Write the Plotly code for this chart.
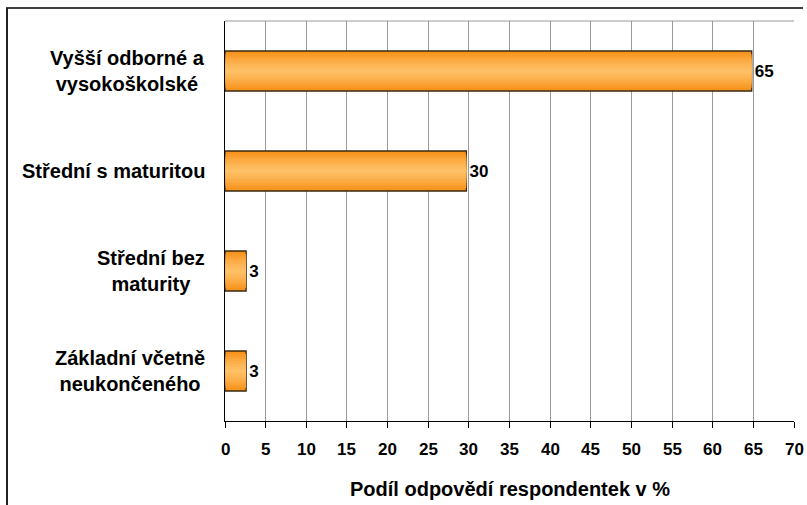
import plotly.graph_objects as go

categories = ["Vyšší odborné a<br>vysokoškolské", "Střední s maturitou",
              "Střední bez<br>maturity", "Základní včetně<br>neukončeného"]
values = [64.8, 29.7, 2.6, 2.6]
labels = ["65", "30", "3", "3"]
x_ticks = list(range(0, 75, 5))
x_title = "Podíl odpovědí respondentek v %"

W, H = 807, 505
L, R, T, B = 225, 13, 21, 84
pw, ph = W - L - R, H - T - B

FONT = "Liberation Sans, Arial, sans-serif"
ycat = list(range(len(categories)))

fig = go.Figure()
# base bar with border and labels
fig.add_trace(go.Bar(
    x=values, y=ycat, orientation="h", width=0.4,
    marker=dict(color="#F7941D", line=dict(color="#3a2a10", width=1.3)),
    text=labels, textposition="outside", cliponaxis=False,
    textfont=dict(family=FONT, size=17, color="black", weight="bold"),
    hoverinfo="skip", showlegend=False,
))
# gradient layers (lighter towards the middle)
for w, c in [(0.34, "#F89A28"), (0.29, "#FAA234"), (0.24, "#FBA940"), (0.19, "#FCB04B"),
             (0.14, "#FDB655"), (0.09, "#FEBB5E"), (0.04, "#FFBF64")]:
    fig.add_trace(go.Bar(
        x=[v - 0.08 for v in values], base=[0.06] * len(values), y=ycat, orientation="h", width=w,
        marker=dict(color=c, line=dict(width=0)),
        hoverinfo="skip", showlegend=False,
    ))

# category labels (centred multi-line blocks, right edge near the axis)
for i, cat in enumerate(categories):
    fig.add_annotation(
        x=(207 - L) / pw, xref="paper", y=i, yref="y",
        text=cat, showarrow=False, xanchor="right", align="center",
        font=dict(family=FONT, size=20, color="black", weight="bold"),
    )

# x tick labels
for v in x_ticks:
    fig.add_annotation(
        x=v, xref="x", y=-(449 - (H - B)) / ph, yref="paper",
        text=str(v), showarrow=False, xanchor="center", yanchor="middle",
        font=dict(family=FONT, size=17, color="black", weight="bold"),
    )

# x axis title
fig.add_annotation(
    x=0.5, xref="paper", y=-(489 - (H - B)) / ph, yref="paper",
    text=x_title, showarrow=False, xanchor="center", yanchor="middle",
    font=dict(family=FONT, size=20, color="black", weight="bold"),
)

shapes = [
    # gray top border of plot area
    dict(type="line", xref="paper", yref="paper", x0=0, x1=1, y0=1, y1=1,
         line=dict(color="#9a9a9a", width=1.2)),
    # outer frame: top and left
    dict(type="line", xref="paper", yref="paper",
         x0=(6 - L) / pw, x1=(803 - L) / pw, y0=(H - B - 8) / ph, y1=(H - B - 8) / ph,
         line=dict(color="black", width=1.3)),
    dict(type="line", xref="paper", yref="paper",
         x0=(7 - L) / pw, x1=(7 - L) / pw, y0=(H - B - 8) / ph, y1=-B / ph - 0.01,
         line=dict(color="#222222", width=2)),
]

fig.update_layout(
    width=W, height=H, margin=dict(l=L, r=R, t=T, b=B, pad=0),
    paper_bgcolor="white", plot_bgcolor="white",
    barmode="overlay", showlegend=False, shapes=shapes,
    font=dict(family=FONT, size=15, color="black"),
)
fig.update_xaxes(
    range=[0, 70], tickvals=x_ticks, showticklabels=False,
    showgrid=True, gridcolor="#9a9a9a", gridwidth=1.2,
    showline=True, linecolor="black", linewidth=1.3,
    ticks="outside", ticklen=6, tickcolor="black", tickwidth=1.3,
    zeroline=False, automargin=False,
)
fig.update_yaxes(
    range=[3.5, -0.5], showticklabels=False, showgrid=False, zeroline=False,
    showline=True, linecolor="black", linewidth=1.3, ticks="", automargin=False,
)

fig.write_html("out.html", config={"displayModeBar": False},
               post_script="document.body.style.margin='0';document.body.style.overflow='hidden';")
